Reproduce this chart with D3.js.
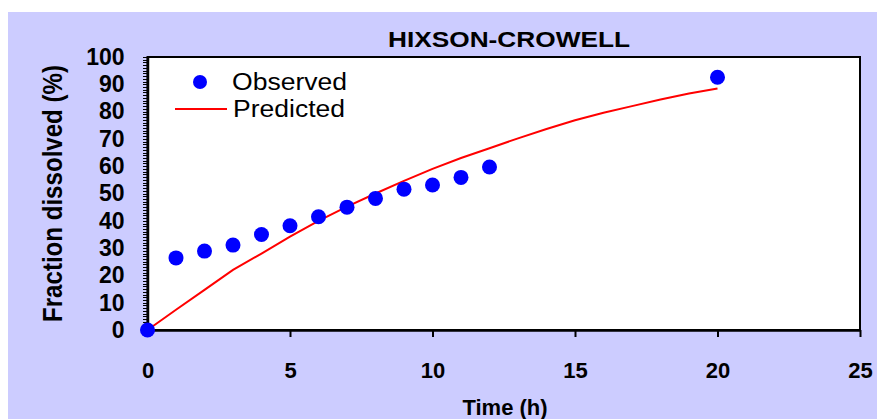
<!DOCTYPE html>
<html>
<head>
<meta charset="utf-8">
<script src="https://cdn.jsdelivr.net/npm/d3@7"></script>
<style>
  body { margin: 0; background: #ffffff; }
  text { font-family: "Liberation Sans", Arial, sans-serif; fill: #000; }
</style>
</head>
<body>
<div id="chart"></div>
<script>
// Observed points
var timeObs = [0, 1, 2, 3, 4, 5, 6, 7, 8, 9, 10, 11, 12, 20];
var observed = [0, 26.4, 28.9, 31.1, 35.0, 38.2, 41.5, 45.0, 48.2, 51.6, 53.1, 55.9, 59.7, 92.6];

// Predicted curve
var timePred = [0, 1, 2, 3, 4, 5, 6, 7, 8, 9, 10, 11, 12, 13, 14, 15, 16, 17, 18, 19, 20];
var predicted = [0, 7.4, 14.7, 22.0, 28.0, 34.2, 40.0, 45.2, 50.0, 54.6, 59.0, 63.0, 66.6, 70.2, 73.6, 76.8, 79.6, 82.0, 84.4, 86.6, 88.5];

var xTicks = [0, 5, 10, 15, 20, 25];
var yTicks = [0, 10, 20, 30, 40, 50, 60, 70, 80, 90, 100];

var svgWidth = 877;
var svgHeight = 419;

// plot box
var plot = { left: 147.5, right: 860, top: 57, bottom: 330 };

var svg = d3.select("#chart")
  .append("svg")
  .attr("width", svgWidth)
  .attr("height", svgHeight);

// lavender chart area
svg.append("rect")
  .attr("x", 8)
  .attr("y", 12)
  .attr("width", svgWidth - 8)
  .attr("height", svgHeight - 12)
  .attr("fill", "#ccccff");

var x = d3.scaleLinear().domain([0, 25]).range([plot.left, plot.right]);
var y = d3.scaleLinear().domain([0, 100]).range([plot.bottom, plot.top]);

// white plot area with frame
svg.append("rect")
  .attr("x", plot.left)
  .attr("y", plot.top)
  .attr("width", plot.right - plot.left)
  .attr("height", plot.bottom - plot.top)
  .attr("fill", "#fff")
  .attr("stroke", "#000")
  .attr("stroke-width", 2);

// Y minor ticks every 1 unit
var yMinor = svg.append("g")
  .attr("transform", "translate(" + plot.left + ",0)")
  .call(d3.axisLeft(y).tickValues(d3.range(0, 101, 1)).tickSize(5).tickSizeOuter(0).tickFormat(""));
yMinor.selectAll("line")
  .attr("stroke", "#000")
  .attr("stroke-width", 1)
  .attr("shape-rendering", "crispEdges");
yMinor.select(".domain").attr("stroke", "#000").attr("stroke-width", 2.5);

// Y labels
var yLab = svg.append("g")
  .attr("transform", "translate(" + plot.left + ",0)")
  .call(d3.axisLeft(y).tickValues(yTicks).tickSize(0).tickPadding(23));
yLab.select(".domain").remove();
yLab.selectAll("text")
  .attr("font-size", 23)
  .attr("font-weight", "bold")
  .attr("font-family", "Liberation Sans, Arial, sans-serif");

// X axis
var xAxis = svg.append("g")
  .attr("transform", "translate(0," + plot.bottom + ")")
  .call(d3.axisBottom(x).tickValues(xTicks).tickSize(7).tickSizeOuter(0).tickPadding(25));
xAxis.select(".domain").attr("stroke", "#000").attr("stroke-width", 2.5);
xAxis.selectAll("line").attr("stroke", "#000").attr("stroke-width", 2);
xAxis.selectAll("text")
  .attr("font-size", 22)
  .attr("font-weight", "bold")
  .attr("font-family", "Liberation Sans, Arial, sans-serif");

// predicted line
var line = d3.line()
  .x(function(d, i) { return x(timePred[i]); })
  .y(function(d) { return y(d); });

svg.append("path")
  .datum(predicted)
  .attr("d", line)
  .attr("fill", "none")
  .attr("stroke", "#ff0000")
  .attr("stroke-width", 2);

// observed points
svg.selectAll("circle.obs")
  .data(observed)
  .enter()
  .append("circle")
  .attr("class", "obs")
  .attr("cx", function(d, i) { return x(timeObs[i]); })
  .attr("cy", function(d) { return y(d); })
  .attr("r", 7.5)
  .attr("fill", "#0000ff");

// title
svg.append("text")
  .attr("x", 388)
  .attr("y", 47)
  .attr("font-size", 22)
  .attr("font-weight", "bold")
  .attr("textLength", 242)
  .attr("lengthAdjust", "spacingAndGlyphs")
  .text("HIXSON-CROWELL");

// legend
svg.append("circle")
  .attr("cx", 200)
  .attr("cy", 82)
  .attr("r", 7)
  .attr("fill", "#0000ff");
svg.append("text")
  .attr("x", 232)
  .attr("y", 90)
  .attr("font-size", 23)
  .attr("textLength", 115)
  .attr("lengthAdjust", "spacingAndGlyphs")
  .text("Observed");
svg.append("line")
  .attr("x1", 175).attr("x2", 227)
  .attr("y1", 109).attr("y2", 109)
  .attr("stroke", "#ff0000")
  .attr("stroke-width", 2);
svg.append("text")
  .attr("x", 233)
  .attr("y", 117)
  .attr("font-size", 23)
  .attr("textLength", 112)
  .attr("lengthAdjust", "spacingAndGlyphs")
  .text("Predicted");

// y axis label
svg.append("text")
  .attr("transform", "translate(62," + ((plot.top + plot.bottom) / 2) + ") rotate(-90)")
  .attr("text-anchor", "middle")
  .attr("font-size", 27)
  .attr("font-weight", "bold")
  .attr("textLength", 257)
  .attr("lengthAdjust", "spacingAndGlyphs")
  .text("Fraction dissolved (%)");

// x axis label
svg.append("text")
  .attr("x", 505)
  .attr("y", 415)
  .attr("text-anchor", "middle")
  .attr("font-size", 22)
  .attr("font-weight", "bold")
  .text("Time (h)");
</script>
</body>
</html>
